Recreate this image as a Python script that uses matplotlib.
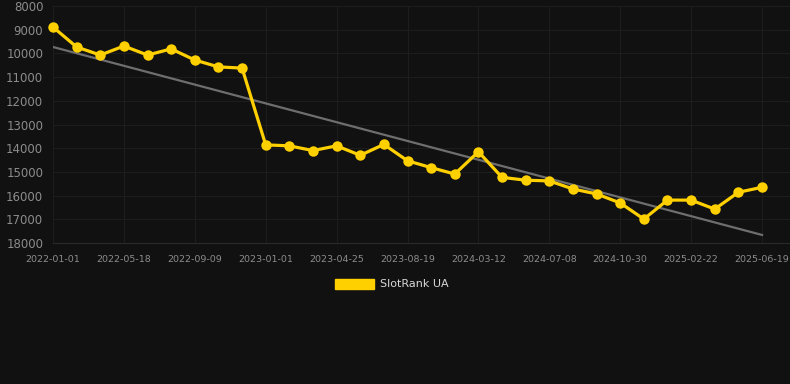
# slotrank_ua_chart.py
# SlotRank UA の順位推移（y軸反転）とトレンド線

import matplotlib
matplotlib.use("Agg")
import matplotlib.pyplot as plt
from matplotlib.patches import Patch

# ===== データ =====
tick_labels = ["2022-01-01", "2022-05-18", "2022-09-09", "2023-01-01",
               "2023-04-25", "2023-08-19", "2024-03-12", "2024-07-08",
               "2024-10-30", "2025-02-22", "2025-06-19"]
rank = [8890, 9730, 10070, 9690, 10070, 9810, 10280, 10570, 10620,
        13860, 13900, 14100, 13900, 14300, 13840, 14530, 14820, 15090,
        14150, 15230, 15350, 15380, 15720, 15930, 16310, 16990, 16190,
        16190, 16570, 15860, 15650]
trend_start = 9730
trend_end = 17660
y_ticks = [8000, 9000, 10000, 11000, 12000, 13000, 14000, 15000,
           16000, 17000, 18000]
# ==================

bg = "#111111"
yellow = "#FFD000"
grid_c = "#1d1d1d"
label_c = "#8c8c8c"


def main():
    fig = plt.figure(figsize=(7.9, 3.84), dpi=100, facecolor=bg)
    ax = fig.add_axes([53 / 790, 1 - 243 / 384, 1 - 53 / 790, (243 - 6) / 384])
    ax.set_facecolor(bg)

    n = len(rank)
    x = list(range(n))
    ax.plot([0, n - 1], [trend_start, trend_end], color="#6e6e6e", lw=1.6, zorder=2)
    ax.plot(x, rank, color=yellow, lw=2.3, marker="o", markersize=7.5,
            markeredgewidth=0, zorder=3, clip_on=False)

    ax.set_ylim(18000, 8000)
    ax.set_yticks(y_ticks)
    ax.set_xlim(0, (790 - 53) / ((762 - 53) / (n - 1)))
    ax.set_xticks(x[::3])
    ax.set_xticklabels(tick_labels)

    ax.grid(True, color=grid_c, lw=0.8)
    ax.set_axisbelow(True)
    for s in ax.spines.values():
        s.set_visible(False)
    ax.spines["bottom"].set_visible(True)
    ax.spines["bottom"].set_color("#2a2a2a")
    ax.spines["bottom"].set_linewidth(0.8)
    ax.tick_params(axis="y", length=0, pad=7, labelsize=8.5, labelcolor=label_c)
    ax.tick_params(axis="x", length=0, pad=9, labelsize=6.8, labelcolor=label_c)

    fig.legend(handles=[Patch(color=yellow, label="SlotRank UA")],
               loc="center", bbox_to_anchor=(392 / 790, 1 - 284 / 384),
               frameon=False, fontsize=8, labelcolor="#d8d8d8",
               handlelength=3.5, handleheight=1.0, handletextpad=0.5)

    fig.savefig("out.png", dpi=100, facecolor=bg)


if __name__ == "__main__":
    main()
